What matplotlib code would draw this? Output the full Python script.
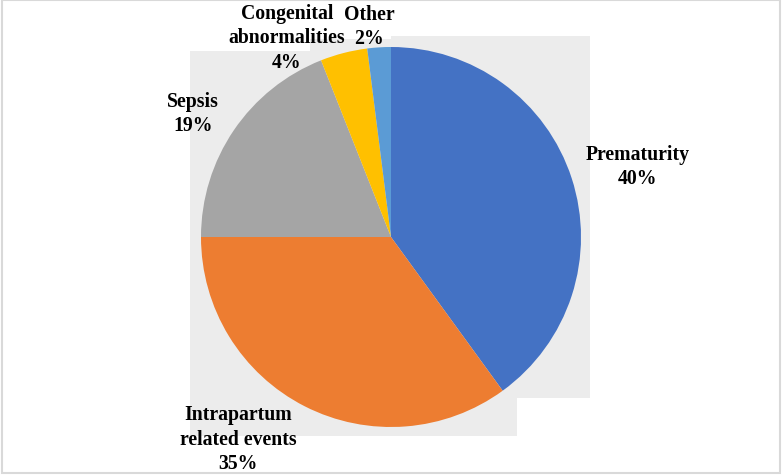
import matplotlib.pyplot as plt
from matplotlib.patches import Rectangle

causes = ['Prematurity', 'Intrapartum\nrelated events', 'Sepsis',
          'Congenital\nabnormalities', 'Other']
shares = [40, 35, 19, 4, 2]
colors = ['#4472C4', '#ED7D31', '#A5A5A5', '#FFC000', '#5B9BD5']

# label anchor points, in pixels from the top-left corner
label_xy = [(638, 167), (238, 440), (193, 114), (287, 38), (369, 27)]

W, H = 782, 477
fig = plt.figure(figsize=(W / 100, H / 100), dpi=100)
ax = fig.add_axes([0, 0, 1, 1])

# soft shadow boxes behind the slices
for x0, y0, x1, y1 in [(190, 52, 391, 250), (310, 40, 398, 240),
                       (391, 37, 590, 399), (190, 250, 517, 437)]:
    ax.add_patch(Rectangle((x0, H - y1), x1 - x0, y1 - y0,
                           facecolor='#ececec', edgecolor='none', zorder=0))

ax.pie(shares, colors=colors, startangle=90, counterclock=False,
       center=(391, H - 238), radius=190,
       wedgeprops=dict(linewidth=0), frame=True)
ax.set_xlim(0, W)
ax.set_ylim(0, H)
ax.set_aspect('equal')
ax.axis('off')

for name, val, (px, py) in zip(causes, shares, label_xy):
    ax.text(px, H - py, f'{name}\n{val}%', ha='center', va='center',
            fontsize=14.2, fontweight='bold', family='Liberation Serif',
            linespacing=1.3, zorder=5)

# thin frame round the picture
fig.patches.append(Rectangle((0.002, 0.006), 0.995, 0.992, transform=fig.transFigure,
                             fill=False, edgecolor='#d9d9d9', linewidth=1.5))

fig.savefig('out.png', dpi=100)
